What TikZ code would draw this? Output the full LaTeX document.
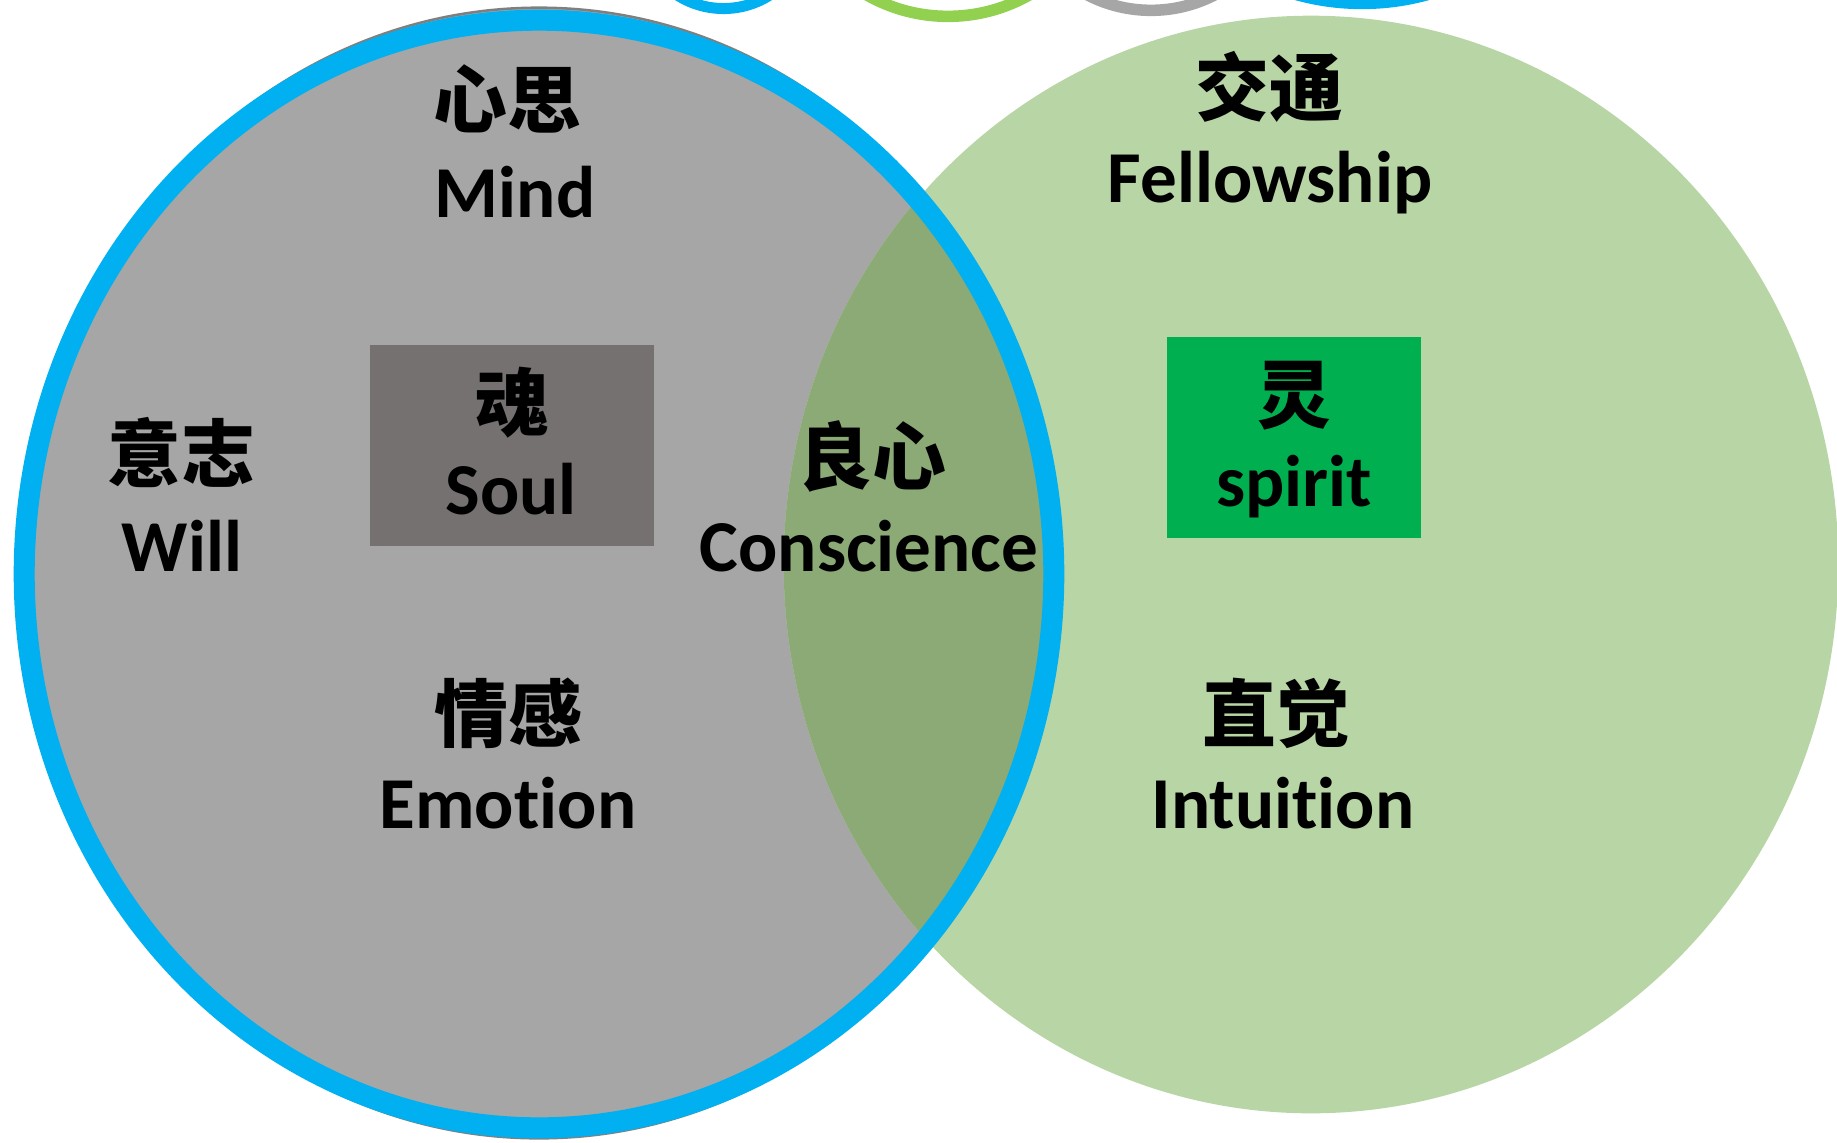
\documentclass[tikz,border=0pt]{standalone}
\usepackage{fontspec}
\setmainfont[Ligatures=NoCommon]{Carlito}
\newfontfamily\cjk{Noto Sans CJK SC}
\usetikzlibrary{positioning}
\definecolor{soulgray}{HTML}{A6A6A6}
\definecolor{rimgray}{HTML}{7F7F7F}
\definecolor{ringblue}{HTML}{00B0F0}
\definecolor{ringgreen}{HTML}{92D050}
\definecolor{spiritgreen}{HTML}{B8D5A5}
\definecolor{overlapgreen}{HTML}{8BAA76}
\definecolor{soulbox}{HTML}{767171}
\definecolor{spiritbox}{HTML}{00B050}

\begin{document}
\begin{tikzpicture}[
	  x=0.01cm, y=-0.01cm,
	  entext/.style={
	  	anchor=base,
	  	inner sep=0pt,
	  	font=\fontsize{20.8}{25}\selectfont\bfseries
	  },
	  cntext/.style={
	  	anchor=base,
	  	inner sep=0pt,
	  	font=\fontsize{21}{25}\selectfont\cjk\bfseries
	  },
	  centrebox/.style={
	  	rectangle,
	  	inner sep=0pt,
	  	minimum height=2.01cm
	  },
	  toparc/.style={
	  	draw,
	  	fill=none
	  }]
	\useasboundingbox (0,0) rectangle (1837,1142);
	\clip (0,0) rectangle (1837,1142);
	% Rings cut off at the top
	\draw[toparc, ringblue, line width=0.11cm] (723.5,-77) circle [radius=0.855cm];
	\draw[toparc, ringgreen, line width=0.115cm] (948,-148) circle [radius=1.6425cm];
	\draw[toparc, soulgray, line width=0.115cm] (1151,-128) circle [radius=1.3825cm];
	\draw[toparc, ringblue, line width=0.11cm] (1362,-242) circle [radius=2.455cm];
	% Soul and spirit
	\filldraw[fill=soulgray, draw=rimgray, line width=0.025cm] (539,573) ellipse [x radius=5.15cm, y radius=5.65cm];
	\fill[spiritgreen] (1311,564.5) ellipse [x radius=5.27cm, y radius=5.485cm];
	\begin{scope}
		\clip (539,574) ellipse [x radius=5.145cm, y radius=5.535cm];
		\fill[overlapgreen] (1311,564.5) ellipse [x radius=5.27cm, y radius=5.485cm];
	\end{scope}
	\draw[ringblue, line width=0.21cm] (539,574) ellipse [x radius=5.145cm, y radius=5.535cm];
	% Boxes
	\node[centrebox, fill=soulbox, minimum width=2.84cm] (soul box) at (512,445.5) {};
	\node[centrebox, fill=spiritbox, minimum width=2.54cm] (spirit box) at (1294,437.5) {};
	% Labels
	\node[cntext] (mindcn) at (507,127) {心思};
	\node[entext] (mind) at (515,217) {Mind};
	\node[cntext] (willcn) at (181,481) {意志};
	\node[entext] (will) at (182,571) {Will};
	\node[cntext] (soulcn) at (512,430) {魂};
	\node[entext] (soul) at (511,514) {Soul};
	\node[cntext] (consciencecn) at (872,484) {良心};
	\node[entext] (conscience) at (869,571) {Conscience};
	\node[cntext] (emotioncn) at (508,741) {情感};
	\node[entext] (emotion) at (508,828) {Emotion};
	\node[cntext] (fellowshipcn) at (1269,115) {交通};
	\node[entext] (fellowship) at (1270,202) {Fellowship};
	\node[cntext] (spiritcn) at (1294,422) {灵};
	\node[entext] (spirit) at (1294,506) {spirit};
	\node[cntext] (intuitioncn) at (1276,741) {直觉};
	\node[entext] (intuition) at (1283,828) {Intuition};
\end{tikzpicture}
\end{document}
